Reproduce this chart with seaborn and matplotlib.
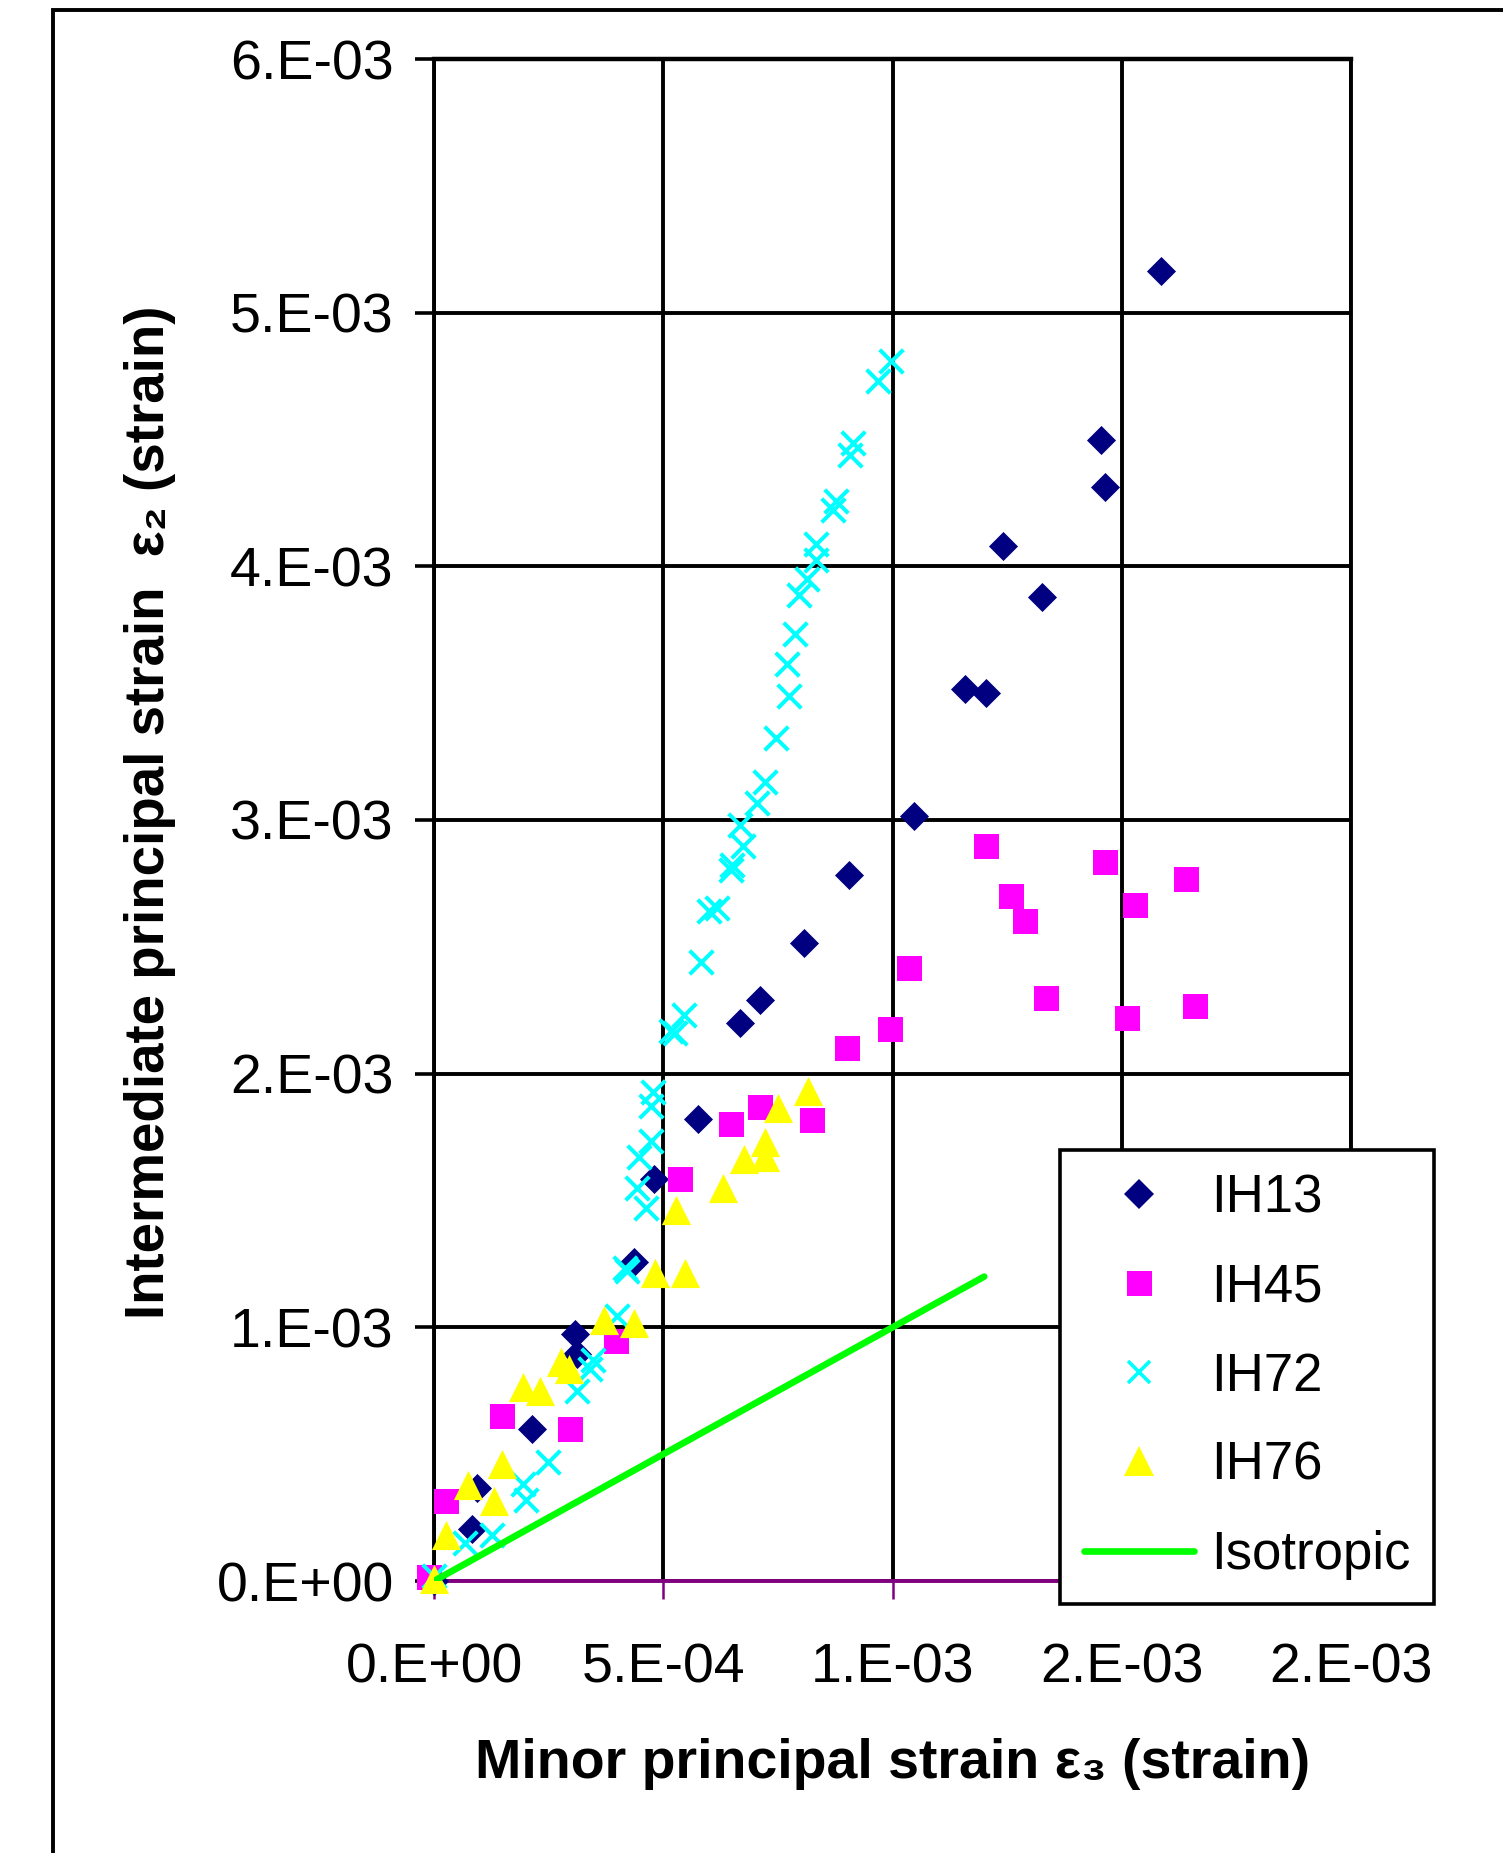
import matplotlib
matplotlib.use("Agg")
import matplotlib.pyplot as plt
import seaborn as sns
import pandas as pd
from matplotlib.lines import Line2D
from matplotlib.patches import Rectangle

# ---------------- data (strain, in units of 1e-3) ----------------
ih13_x = [0.0, 0.083, 0.093, 0.214, 0.307, 0.312, 0.436, 0.480, 0.575, 0.668, 0.711,
          0.807, 0.905, 1.046, 1.158, 1.204, 1.241, 1.325, 1.455, 1.464, 1.585]
ih13_y = [0.0, 0.205, 0.368, 0.601, 0.974, 0.896, 1.256, 1.584, 1.820, 2.200, 2.290,
          2.515, 2.784, 3.014, 3.517, 3.501, 4.082, 3.881, 4.499, 4.314, 5.164]

ih45_x = [-0.010, 0.027, 0.148, 0.297, 0.398, 0.537, 0.648, 0.712, 0.825, 0.900, 0.995,
          1.036, 1.204, 1.259, 1.288, 1.334, 1.464, 1.511, 1.529, 1.641, 1.659]
ih45_y = [0.016, 0.317, 0.652, 0.601, 0.947, 1.584, 1.801, 1.870, 1.817, 2.100, 2.175,
          2.417, 2.897, 2.700, 2.600, 2.300, 2.834, 2.218, 2.665, 2.766, 2.267]

ih72_x = [0.000, 0.068, 0.127, 0.195, 0.200, 0.249, 0.312, 0.341, 0.346, 0.400, 0.417,
          0.422, 0.463, 0.443, 0.448, 0.473, 0.473, 0.478, 0.517, 0.526, 0.546, 0.583,
          0.600, 0.618, 0.648, 0.651, 0.675, 0.667, 0.704, 0.722, 0.747, 0.774, 0.769,
          0.787, 0.796, 0.814, 0.834, 0.834, 0.871, 0.876, 0.908, 0.913, 0.969, 0.996]
ih72_y = [0.020, 0.151, 0.182, 0.384, 0.321, 0.469, 0.748, 0.834, 0.873, 1.043, 1.233,
          1.222, 1.470, 1.548, 1.672, 1.734, 1.874, 1.929, 2.169, 2.161, 2.231, 2.440,
          2.643, 2.652, 2.803, 2.821, 2.897, 2.981, 3.066, 3.150, 3.325, 3.489, 3.615,
          3.733, 3.887, 3.949, 4.024, 4.090, 4.222, 4.259, 4.438, 4.485, 4.729, 4.810]

ih76_x = [0.000, 0.027, 0.074, 0.130, 0.148, 0.195, 0.231, 0.278, 0.295, 0.370, 0.436,
          0.481, 0.547, 0.528, 0.631, 0.677, 0.721, 0.721, 0.750, 0.816]
ih76_y = [0.006, 0.182, 0.379, 0.314, 0.461, 0.764, 0.748, 0.865, 0.834, 1.028, 1.016,
          1.214, 1.214, 1.463, 1.548, 1.665, 1.672, 1.731, 1.863, 1.932]

iso_x = [0.0, 1.2]
iso_y = [0.0, 1.2]

series_names = ["IH13", "IH45", "IH72", "IH76"]
line_name = "Isotropic"

x_ticks = [0.0, 0.5e-3, 1.0e-3, 1.5e-3, 2.0e-3]
x_tick_labels = ["0.E+00", "5.E-04", "1.E-03", "2.E-03", "2.E-03"]
y_ticks = [0.0, 1e-3, 2e-3, 3e-3, 4e-3, 5e-3, 6e-3]
y_tick_labels = ["0.E+00", "1.E-03", "2.E-03", "3.E-03", "4.E-03", "5.E-03", "6.E-03"]

x_label = "Minor principal strain ε₃ (strain)"
y_label = "Intermediate principal strain  ε₂ (strain)"

# ---------------- styling ----------------
sns.set_theme(style="white")
plt.rcParams["font.family"] = ["Liberation Sans", "DejaVu Sans"]
plt.rcParams["text.color"] = "black"
plt.rcParams["axes.labelcolor"] = "black"
plt.rcParams["xtick.color"] = "black"
plt.rcParams["ytick.color"] = "black"

colors = {"IH13": "#000080", "IH45": "#FF00FF", "IH72": "#00FFFF", "IH76": "#FFFF00"}
markers = {"IH13": "D", "IH45": "s", "IH72": "x", "IH76": "^"}
msize = {"IH13": 14.8, "IH45": 18.0, "IH72": 17.0, "IH76": 21.0}
iso_color = "#00FF00"
axis_purple = "#800080"

W, H, DPI = 1503, 1853, 100
fig = plt.figure(figsize=(W / DPI, H / DPI), dpi=DPI)
ax = fig.add_axes([434 / W, 1 - 1581 / H, (1351 - 434) / W, (1581 - 59) / H])

# ---------------- draw ----------------
frames = []
for name, xs, ys in zip(series_names, [ih13_x, ih45_x, ih72_x, ih76_x],
                        [ih13_y, ih45_y, ih72_y, ih76_y]):
    frames.append(pd.DataFrame({"x": [v * 1e-3 for v in xs],
                                "y": [v * 1e-3 for v in ys],
                                "series": name}))
df = pd.concat(frames, ignore_index=True)

for i, name in enumerate(series_names):
    sub = df[df["series"] == name]
    kw = dict(data=sub, x="x", y="y", ax=ax, color=colors[name], marker=markers[name],
              s=msize[name] ** 2, clip_on=False, zorder=3 + i, legend=False)
    if markers[name] == "x":
        kw["linewidth"] = 2.9
    else:
        kw["linewidth"] = 0
        kw["edgecolor"] = colors[name]
    sns.scatterplot(**kw)

iso_df = pd.DataFrame({"x": [v * 1e-3 for v in iso_x], "y": [v * 1e-3 for v in iso_y]})
sns.lineplot(data=iso_df, x="x", y="y", ax=ax, color=iso_color, linewidth=4.8,
             zorder=8, legend=False)

# ---------------- axes ----------------
ax.set_xlim(0, 2e-3)
ax.set_ylim(0, 6e-3)
ax.set_xticks(x_ticks)
ax.set_xticklabels(x_tick_labels)
ax.set_yticks(y_ticks)
ax.set_yticklabels(y_tick_labels)
ax.grid(True, color="black", linewidth=2.8, zorder=0)
ax.set_axisbelow(True)

for side in ["left", "right", "top"]:
    ax.spines[side].set_color("black")
    ax.spines[side].set_linewidth(2.8)
ax.spines["top"].set_linewidth(3.2)
ax.spines["bottom"].set_color(axis_purple)
ax.spines["bottom"].set_linewidth(2.8)
ax.spines["bottom"].set_zorder(2.5)

ax.tick_params(axis="x", bottom=True, direction="out", length=13, width=1.8,
               color=axis_purple, labelsize=40, pad=31, labelcolor="black")
ax.tick_params(axis="y", left=True, direction="out", length=14, width=2.6,
               color="black", labelsize=40, pad=15, labelcolor="black")

ax.set_xlabel(x_label, fontsize=40, fontweight="bold", va="center", color="black")
ax.xaxis.set_label_coords(0.5, (1581 - 1764) / (1581 - 59))
ax.set_ylabel(y_label, fontsize=39.3, fontweight="bold", va="center", color="black")
ax.yaxis.set_label_coords((150 - 434) / (1351 - 434), 0.505)

# ---------------- legend ----------------
handles = []
for name in series_names:
    if markers[name] == "x":
        h = Line2D([], [], linestyle="none", marker="x", markersize=15.5,
                   markeredgecolor=colors[name], markeredgewidth=2.6)
    else:
        h = Line2D([], [], linestyle="none", marker=markers[name], markersize=msize[name],
                   markerfacecolor=colors[name], markeredgecolor=colors[name],
                   markeredgewidth=0)
    handles.append(h)
handles.append(Line2D([], [], color=iso_color, linewidth=4.8))
labels = series_names + [line_name]

leg = ax.legend(handles, labels, loc="upper left",
                bbox_to_anchor=(1060 / W, 1 - 1150 / H), bbox_transform=fig.transFigure,
                frameon=True, fancybox=False, shadow=False, fontsize=38,
                handlelength=2.08, handletextpad=0.33, borderpad=0.45,
                labelspacing=0.74, borderaxespad=0)
for t in leg.get_texts():
    t.set_color("black")
leg.get_frame().set_edgecolor("black")
leg.get_frame().set_linewidth(2.6)
leg.get_frame().set_facecolor("white")
leg.get_frame().set_alpha(1)
leg.set_zorder(20)

# ---------------- outer frame (cropped figure border) ----------------
fig.patches.append(Rectangle((53 / W, -0.2), 1.5, 1.2 - 10 / H,
                             transform=fig.transFigure, fill=False,
                             edgecolor="black", linewidth=2.8, clip_on=False))

fig.savefig("out.png", dpi=DPI, facecolor="white")
